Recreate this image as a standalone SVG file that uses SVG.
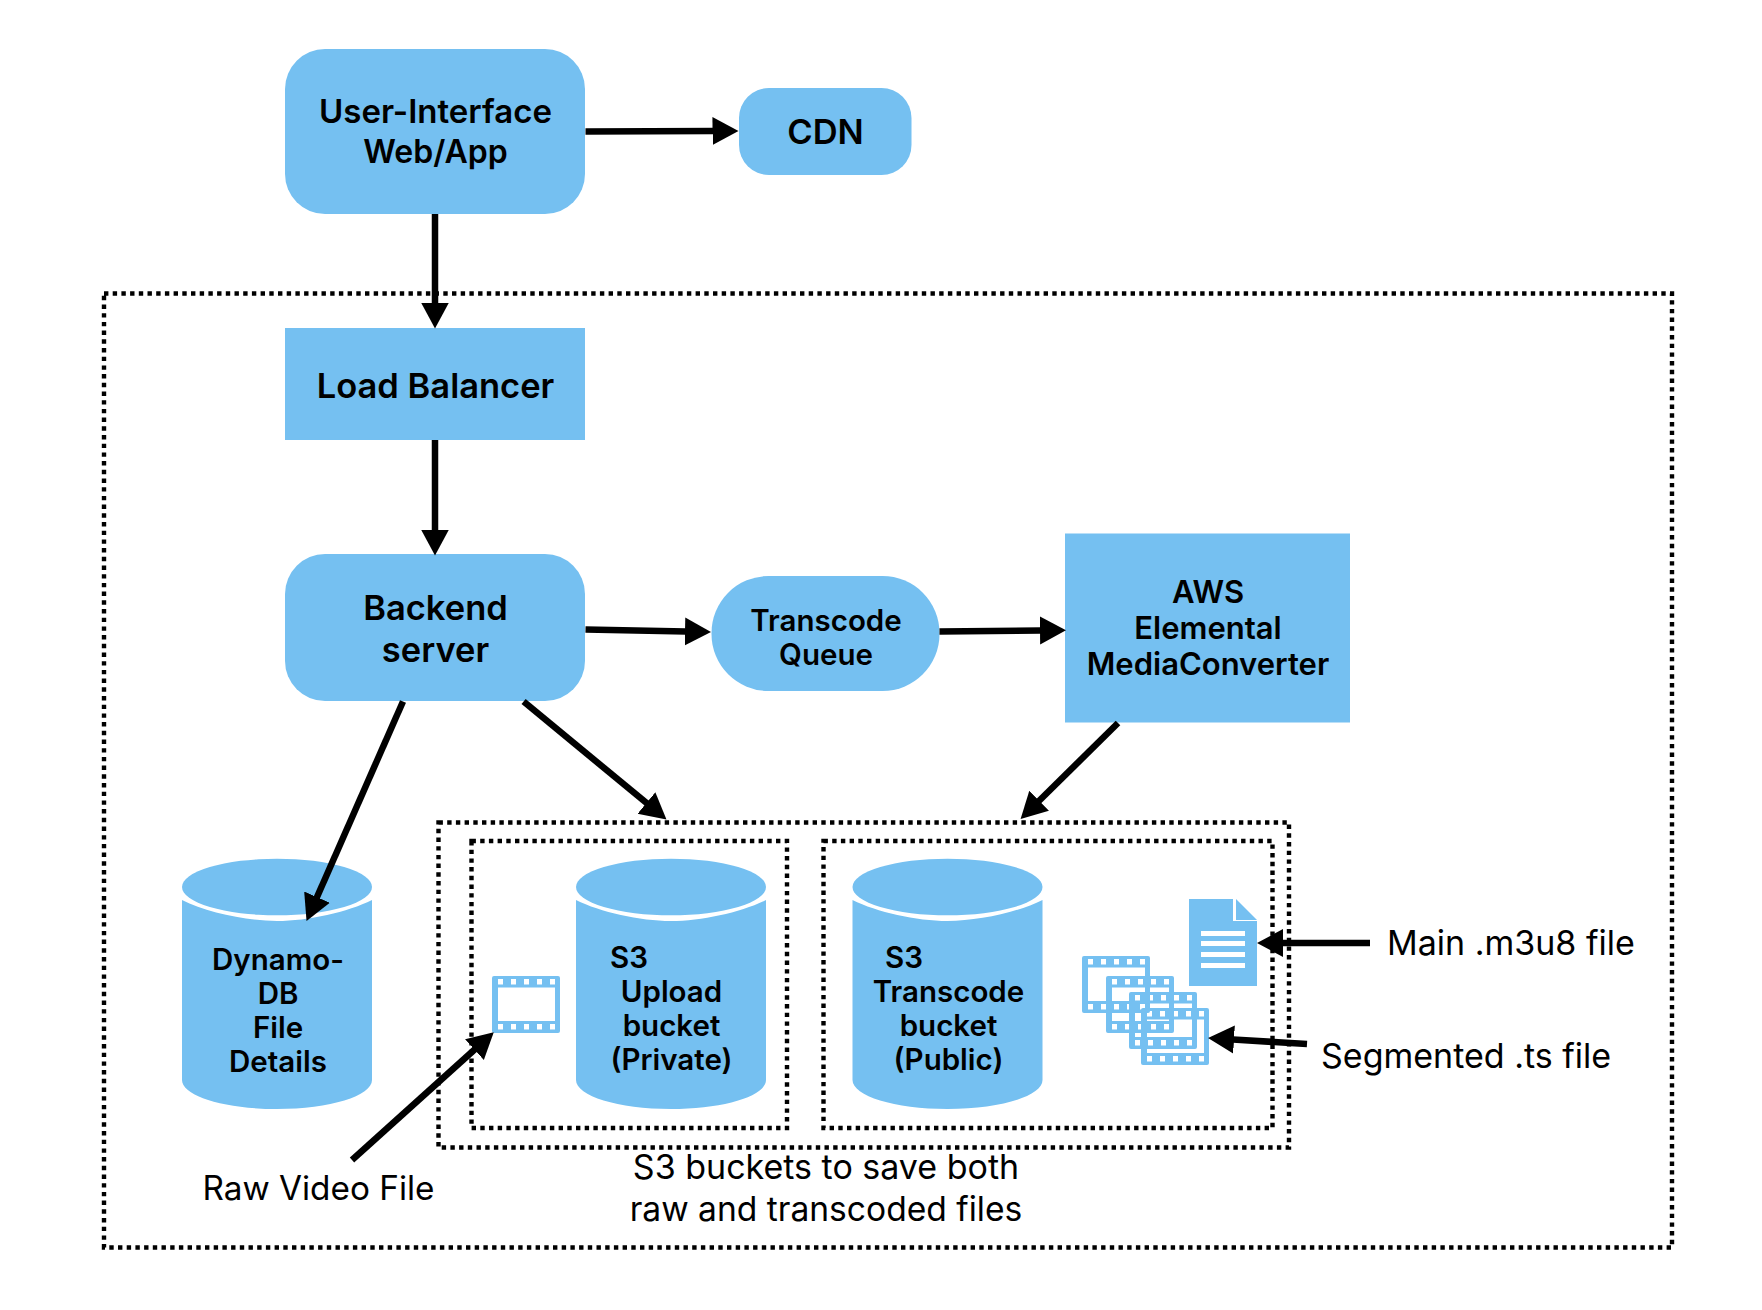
<svg xmlns="http://www.w3.org/2000/svg" width="1762" height="1310" viewBox="0 0 1762 1310">
<style>
.n{fill:#75c0f1}
.t{font-family:Inter,"Liberation Sans",sans-serif;font-weight:600;fill:#000;text-anchor:middle;font-size:34.5px}
.u{font-size:33px}
.w{font-size:32px}
.s{font-size:29.5px}
.m{font-size:31px}
.l{font-family:Inter,"Liberation Sans",sans-serif;font-weight:400;fill:#000;font-size:34px}
.d{fill:none;stroke:#000;stroke-width:4.4;stroke-dasharray:4.4 4.3}
.c{fill:none;stroke:#000;stroke-width:6.5;marker-end:url(#a)}
</style>
<defs>
<marker id="a" markerUnits="userSpaceOnUse" markerWidth="28" markerHeight="30" refX="1" refY="15" orient="auto" viewBox="0 0 28 30"><path d="M0 1L26 15L0 29Z" fill="#000"/></marker>
<path id="film" fill="#75c0f1" fill-rule="evenodd" d="M2 0H66Q68 0 68 2V55Q68 57 66 57H2Q0 57 0 55V2Q0 0 2 0ZM6 11.500V45H63V11.500ZM6 3V8.500H11V3ZM19 3V8.500H24V3ZM32 3V8.500H37V3ZM45 3V8.500H50V3ZM58 3V8.500H63V3ZM6 48V53.500H11V48ZM19 48V53.500H24V48ZM32 48V53.500H37V48ZM45 48V53.500H50V48ZM58 48V53.500H63V48Z"/>
<g id="cyl"><ellipse class="n" cx="95" cy="28" rx="95" ry="28.300"/><path class="n" d="M0 41C24 53 64 62 95 62C126 62 166 53 190 41V221C190 237 148 250 95 250C42 250 0 237 0 221Z"/></g>
</defs>
<rect width="1762" height="1310" fill="#fff"/>
<g id="boundaries">
<rect class="d" x="104" y="293.500" width="1568" height="954"/>
<rect class="d" x="438.500" y="822.500" width="850.500" height="325"/>
<rect class="d" x="471.500" y="841" width="315.500" height="287"/>
<rect class="d" x="823.500" y="841" width="449" height="287"/>
</g>
<g id="user-interface"><rect class="n" x="285" y="49" width="300" height="165" rx="40"/><text class="t u" x="435.500" y="123">User-Interface</text><text class="t w" x="435.500" y="163">Web/App</text></g>
<g id="cdn"><rect class="n" x="739" y="88" width="172.500" height="87" rx="30"/><text class="t" x="825.500" y="143.500">CDN</text></g>
<g id="load-balancer"><rect class="n" x="285" y="328" width="300" height="112"/><text class="t" x="435.500" y="397.500">Load Balancer</text></g>
<g id="backend"><rect class="n" x="285" y="554" width="300" height="147" rx="40"/><text class="t" x="435.500" y="619.500">Backend</text><text class="t" x="435.500" y="661.500">server</text></g>
<g id="transcode-queue"><rect class="n" x="711.500" y="576" width="228" height="115" rx="57"/><text class="t s" x="826" y="631">Transcode</text><text class="t s" x="826" y="664.500">Queue</text></g>
<g id="mediaconverter"><rect class="n" x="1065" y="533.500" width="285" height="189"/><text class="t m" x="1208" y="603">AWS</text><text class="t m" x="1208" y="639">Elemental</text><text class="t m" x="1208" y="675">MediaConverter</text></g>
<g id="dynamodb"><use href="#cyl" x="182" y="859"/><text class="t s" x="278" y="970">Dynamo-</text><text class="t s" x="278" y="1004">DB</text><text class="t s" x="278" y="1038">File</text><text class="t s" x="278" y="1072">Details</text></g>
<g id="s3-upload"><use href="#cyl" x="576" y="859"/><text class="t s" x="629" y="968">S3</text><text class="t s" x="671.500" y="1002">Upload</text><text class="t s" x="671.500" y="1036">bucket</text><text class="t s" x="671.500" y="1070">(Private)</text></g>
<g id="s3-transcode"><use href="#cyl" x="852.500" y="859"/><text class="t s" x="904" y="968">S3</text><text class="t s" x="948.500" y="1002">Transcode</text><text class="t s" x="948.500" y="1036">bucket</text><text class="t s" x="948.500" y="1070">(Public)</text></g>
<g id="raw-film"><use href="#film" x="492" y="976"/></g>
<g id="segments"><use href="#film" x="1082" y="956"/><use href="#film" x="1106" y="976"/><use href="#film" x="1129" y="992"/><use href="#film" x="1141" y="1008"/></g>
<g id="m3u8-doc"><path class="n" d="M1189 899H1233V921H1257V986H1189Z"/><path class="n" d="M1236 899L1257 920H1236Z"/><g fill="#fff"><rect x="1201" y="931" width="44" height="5"/><rect x="1201" y="941" width="44" height="5"/><rect x="1201" y="952" width="44" height="5"/><rect x="1201" y="963" width="44" height="5"/></g></g>
<g id="connectors">
<path class="c" d="M585.500 131.500L713.500 131"/>
<path class="c" d="M435 214V303.500"/>
<path class="c" d="M435 440V530.500"/>
<path class="c" d="M585.500 629.500L686 631.500"/>
<path class="c" d="M939.500 631.500L1041 630.400"/>
<path class="c" d="M403 701.500L316.600 898"/>
<path class="c" d="M523.600 701.500L647.200 803.600"/>
<path class="c" d="M1118 723L1038.400 801.500"/>
<path class="c" d="M352 1160L475.200 1049"/>
<path class="c" d="M1370 943H1282"/>
<path class="c" d="M1307 1044L1233 1039.500"/>
</g>
<g id="labels">
<text class="l" x="1387" y="955">Main .m3u8 file</text>
<text class="l" x="1321" y="1068">Segmented .ts file</text>
<text class="l" x="202.500" y="1200" style="font-size:33.300px">Raw Video File</text>
<text class="l" x="826" y="1178.500" text-anchor="middle">S3 buckets to save both</text>
<text class="l" x="826" y="1220.500" text-anchor="middle" style="font-size:33.600px">raw and transcoded files</text>
</g>
</svg>
